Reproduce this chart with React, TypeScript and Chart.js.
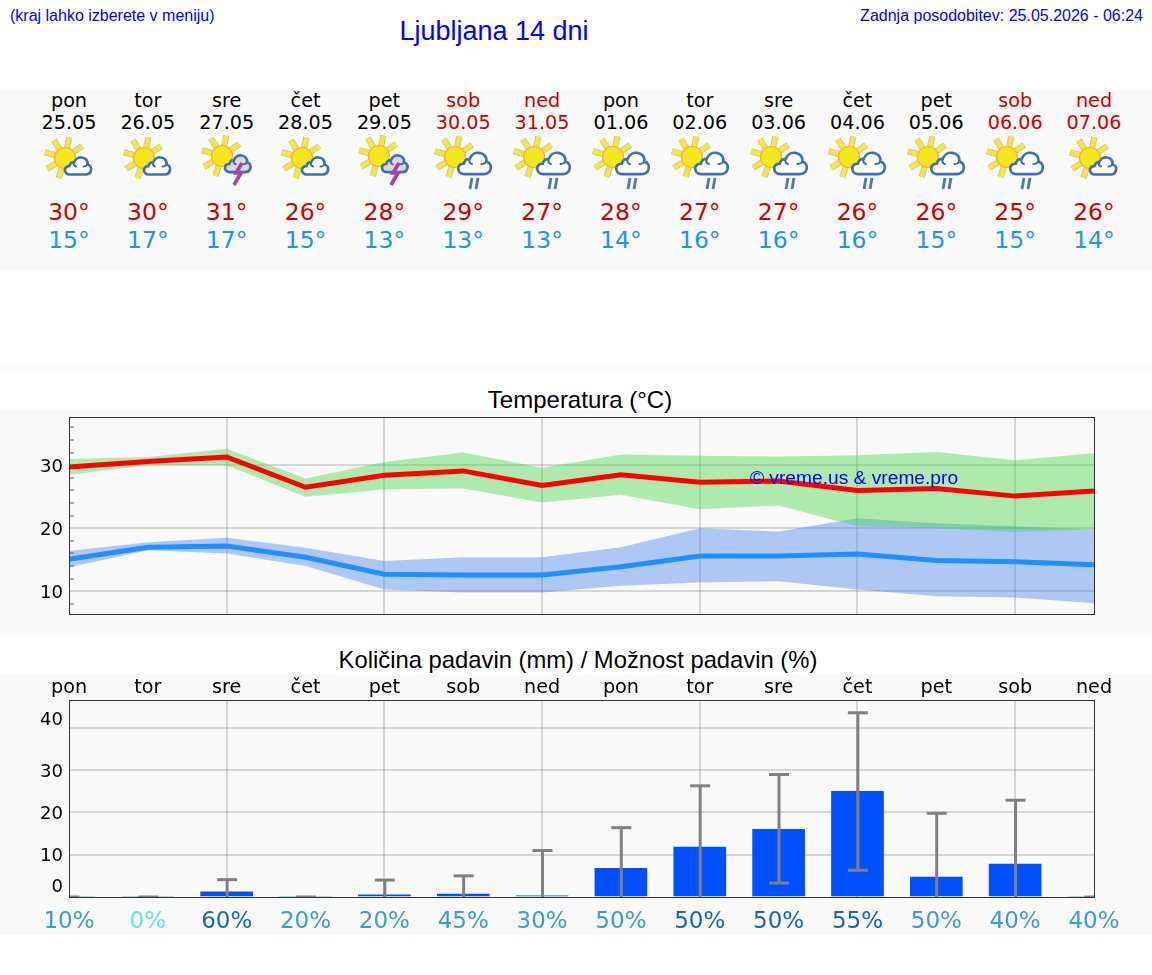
import React, { useEffect, useRef } from "react";
import { Chart, registerables } from "chart.js";
Chart.register(...registerables);

const weekdays = ["pon", "tor", "sre", "čet", "pet", "sob", "ned", "pon", "tor", "sre", "čet", "pet", "sob", "ned"];
const dates = ["25.05", "26.05", "27.05", "28.05", "29.05", "30.05", "31.05", "01.06", "02.06", "03.06", "04.06", "05.06", "06.06", "07.06"];
const weekend = [false, false, false, false, false, true, true, false, false, false, false, false, true, true];
const icons = ["c", "c", "s", "c", "s", "r", "r", "r", "r", "r", "r", "r", "r", "c"];
const highLabels = [30, 30, 31, 26, 28, 29, 27, 28, 27, 27, 26, 26, 25, 26];
const lowLabels = [15, 17, 17, 15, 13, 13, 13, 14, 16, 16, 16, 15, 15, 14];

const tempHigh = [29.7, 30.6, 31.3, 26.5, 28.4, 29.1, 26.8, 28.5, 27.3, 27.5, 26.0, 26.3, 25.1, 25.9];
const tempHighUpper = [31.0, 31.3, 32.6, 27.9, 30.5, 32.0, 29.6, 31.7, 31.5, 31.4, 31.6, 32.1, 30.8, 31.9];
const tempHighLower = [28.5, 30.0, 30.0, 25.0, 26.2, 26.3, 24.1, 25.3, 23.0, 23.6, 20.3, 20.0, 19.4, 19.8];
const tempLow = [15.1, 17.0, 17.2, 15.4, 12.7, 12.6, 12.6, 13.9, 15.6, 15.6, 15.9, 14.9, 14.7, 14.2];
const tempLowUpper = [16.4, 17.8, 18.5, 16.9, 14.8, 15.4, 15.4, 17.0, 20.0, 19.5, 21.6, 20.8, 20.3, 19.8];
const tempLowLower = [13.8, 16.5, 16.0, 14.0, 10.3, 9.8, 9.8, 10.9, 11.4, 11.6, 10.3, 9.2, 9.0, 8.1];

const rain = [0, 0, 1.2, 0, 0.5, 0.7, 0.3, 6.8, 11.8, 16.0, 25.0, 4.7, 7.8, 0];
const rainUpper = [0, 0, 4.1, 0, 4.0, 5.0, 11.0, 16.4, 26.3, 29.0, 43.6, 19.8, 22.9, 0];
const rainLower = [0, 0, 0, 0, 0, 0, 0, 0, 0, 3.3, 6.3, 0, 0, 0];
const rainChance = [10, 0, 60, 20, 20, 45, 30, 50, 50, 50, 55, 50, 40, 40];
const chanceStrong = [false, false, true, false, false, false, false, false, true, true, true, false, false, false];

const DEJAVU = "'DejaVu Sans', sans-serif";
const LIB = "'Liberation Sans', Arial, sans-serif";
const BAND = "#f9f9f9";
const GRID = "rgba(128,128,128,0.3)";
const colX = (i: number) => 69 + (i * 1025) / 13;

// Tick labels are moved by padding them with blank lines of 4px height.
const TICK_FONT = { family: DEJAVU, size: 18, lineHeight: "4px" };
const shiftDown = (s: string) => ["", s];
const shiftUp = (s: string, blanks: number) => [s, ...Array(blanks).fill("")];

const frame = {
  id: "frame",
  afterDatasetsDraw(chart: any) {
    const { ctx, chartArea: a } = chart;
    ctx.save();
    ctx.strokeStyle = "#333333";
    ctx.lineWidth = 1;
    ctx.strokeRect(a.left + 0.5, a.top + 0.5, a.right - a.left, a.bottom - a.top);
    ctx.restore();
  },
};

const whiskers = {
  id: "whiskers",
  afterDatasetsDraw(chart: any) {
    const { ctx, chartArea: a, scales } = chart;
    ctx.save();
    ctx.beginPath();
    ctx.rect(a.left, a.top, a.right - a.left, a.bottom - a.top);
    ctx.clip();
    ctx.strokeStyle = "#808080";
    rainUpper.forEach((u, i) => {
      const x = scales.x.getPixelForValue(i) + 0.4;
      const yU = scales.y.getPixelForValue(u);
      const yL = scales.y.getPixelForValue(rainLower[i]);
      ctx.lineWidth = 3;
      ctx.beginPath();
      ctx.moveTo(x, yU);
      ctx.lineTo(x, yL);
      ctx.stroke();
      ctx.beginPath();
      ctx.moveTo(x - 10, yU);
      ctx.lineTo(x + 10, yU);
      if (rainLower[i] > 0) {
        ctx.moveTo(x - 10, yL);
        ctx.lineTo(x + 10, yL);
      }
      ctx.stroke();
    });
    ctx.restore();
  },
};

const xGrid = (c: any) => {
  const v = c.tick?.value;
  return v % 2 === 0 && v > 0 && v < 13 ? GRID : "transparent";
};
const pts = (a: number[]) => a.map((y, x) => ({ x, y }));
const fitY = (s: any) => {
  s.width = 69;
  s.paddingTop = 0;
  s.paddingBottom = 0;
};

function tempConfig(): any {
  const band = (data: number[], color: string, fill: any, order: number) => ({
    data: pts(data),
    borderWidth: 0,
    pointRadius: 0,
    backgroundColor: color,
    fill,
    order,
    clip: 0,
  });
  const line = (data: number[], color: string, order: number) => ({
    data: pts(data),
    borderColor: color,
    borderWidth: 5,
    pointRadius: 0,
    tension: 0,
    borderJoinStyle: "miter",
    fill: false,
    order,
    clip: 0,
  });
  return {
    type: "line",
    data: {
      datasets: [
        line(tempHigh, "#ff0000", 1),
        line(tempLow, "#1e90ff", 2),
        band(tempHighUpper, "rgba(62,212,62,0.4)", "+1", 3),
        band(tempHighLower, "transparent", false, 3),
        band(tempLowUpper, "rgba(64,128,235,0.4)", "+1", 4),
        band(tempLowLower, "transparent", false, 4),
      ],
    },
    options: {
      animation: false,
      responsive: false,
      devicePixelRatio: 1,
      layout: { padding: { left: 0, top: 7, right: 58, bottom: 21 } },
      plugins: { legend: { display: false }, tooltip: { enabled: false }, title: { display: false } },
      scales: {
        x: {
          type: "linear",
          min: 0,
          max: 13,
          border: { display: false },
          ticks: { stepSize: 1, display: false },
          grid: { color: xGrid, lineWidth: 2, drawTicks: false },
          afterFit: (s: any) => {
            s.height = 0;
          },
        },
        y: {
          min: 6.4,
          max: 37.65,
          border: { display: false },
          afterBuildTicks: (s: any) => {
            s.ticks = s.ticks.filter((t: any) => t.value % 2 === 0);
          },
          ticks: {
            stepSize: 2,
            autoSkip: false,
            includeBounds: false,
            padding: 11,
            color: "#000000",
            font: TICK_FONT,
            callback: (v: number) => (v % 10 === 0 ? shiftDown(String(v)) : ""),
          },
          grid: {
            lineWidth: 2,
            tickLength: -5,
            tickWidth: 1,
            color: (c: any) => (c.tick?.value % 10 === 0 ? GRID : "transparent"),
            tickColor: (c: any) => (c.tick?.value % 10 === 0 ? "transparent" : "#555555"),
          },
          afterFit: fitY,
        },
      },
    },
    plugins: [frame],
  };
}

function rainConfig(): any {
  return {
    type: "bar",
    data: {
      datasets: [
        {
          data: pts(rain),
          backgroundColor: "#0050ff",
          barThickness: 52,
          clip: 0,
        },
      ],
    },
    options: {
      animation: false,
      responsive: false,
      devicePixelRatio: 1,
      layout: { padding: { left: 0, top: 0, right: 58, bottom: 0 } },
      plugins: { legend: { display: false }, tooltip: { enabled: false }, title: { display: false } },
      scales: {
        x: {
          type: "linear",
          min: 0,
          max: 13,
          offset: false,
          border: { display: false },
          ticks: {
            stepSize: 1,
            autoSkip: false,
            maxRotation: 0,
            padding: 11,
            font: { family: DEJAVU, size: 23 },
            color: (c: any) => {
              const i = c.tick?.value ?? 0;
              if (rainChance[i] === 0) return "#66dfe8";
              return chanceStrong[i] ? "#1565b8" : "#3a9bd8";
            },
            callback: (v: number) => `${rainChance[v]}%`,
          },
          grid: { color: xGrid, lineWidth: 2, drawTicks: false, offset: false },
          afterFit: (s: any) => {
            s.height = 38;
          },
        },
        x2: {
          type: "linear",
          position: "top",
          min: 0,
          max: 13,
          offset: false,
          border: { display: false },
          ticks: {
            stepSize: 1,
            autoSkip: false,
            maxRotation: 0,
            padding: 0,
            color: "#000000",
            font: { family: DEJAVU, size: 19.2 },
            callback: (v: number) => weekdays[v],
          },
          grid: { display: false, drawTicks: false, offset: false },
          afterFit: (s: any) => {
            s.height = 25;
          },
        },
        y: {
          min: 0,
          max: 46.6,
          border: { display: false },
          ticks: {
            stepSize: 10,
            includeBounds: false,
            padding: 6,
            color: "#000000",
            font: TICK_FONT,
            callback: (v: number) => {
              const s = String(v);
              if (v === 40) return shiftUp(s, 4);
              if (v === 0) return shiftUp(s, 5);
              return shiftDown(s);
            },
          },
          grid: {
            lineWidth: 2,
            drawTicks: false,
            color: (c: any) => (c.tick?.value === 0 ? "transparent" : GRID),
          },
          afterFit: fitY,
        },
      },
    },
    plugins: [whiskers, frame],
  };
}

const CLOUD =
  "M6 18.5 C2.5 18.5 1 16 1 14 C1 11.5 3 10 5.5 10.2 C5.8 7.5 8 6 10 6.6 C11.5 2.5 15 1 18 1.5 C22 2 24 5 23.5 8.5 C26 9 27.5 11.5 27 14 C26.5 17 24 18.5 21.5 18.5 Z";
const CLOUD_CURL = "M10 6.6 C9.5 8.5 10.5 10 12 10.5 M23.5 8.5 C22.5 10 21 10.6 19.5 10.4";
const RAY_ANGLES = [-164, -122, -78, -35, 108, 149];

function Sun({ x, y }: { x: number; y: number }) {
  return (
    <g>
      {RAY_ANGLES.map((a) => {
        const r = (a * Math.PI) / 180;
        const c = Math.cos(r);
        const s = Math.sin(r);
        const p = { x1: x + c * 10, y1: y + s * 10, x2: x + c * 21, y2: y + s * 21 };
        return (
          <g key={a}>
            <line {...p} stroke="#bdbdbd" strokeWidth={6.2} />
            <line {...p} stroke="#f6e83a" strokeWidth={4.6} />
          </g>
        );
      })}
      <circle cx={x} cy={y} r={10.5} fill="#f6e61e" stroke="#f5b030" strokeWidth={1.2} />
    </g>
  );
}

function Cloud({ x, y, k, fill }: { x: number; y: number; k: number; fill: string }) {
  return (
    <g transform={`translate(${x} ${y}) scale(${k})`}>
      <path d={CLOUD} fill={fill} stroke="#3f6fb5" strokeWidth={2.7 / k} strokeLinejoin="round" />
      <path d={CLOUD_CURL} fill="none" stroke="#3f6fb5" strokeWidth={2 / k} strokeLinecap="round" />
    </g>
  );
}

function WeatherIcon({ kind, cx }: { kind: string; cx: number }) {
  return (
    <svg
      width={90}
      height={64}
      viewBox="-45 0 90 64"
      style={{ position: "absolute", left: cx - 45, top: 132, filter: "blur(0.35px)" }}
    >
      {kind === "c" && (
        <g>
          <Sun x={-4} y={26} />
          <Cloud x={-5} y={24} k={1} fill="#ffffff" />
        </g>
      )}
      {kind === "s" && (
        <g>
          <Sun x={-5} y={24} />
          <Cloud x={-3} y={22} k={0.98} fill="#d9d9d9" />
          <polyline points="15,31 9,41 14,41 7,53" fill="none" stroke="#a63fa8" strokeWidth={3.6} />
        </g>
      )}
      {kind === "r" && (
        <g>
          <Sun x={-8} y={25} />
          <Cloud x={-6} y={19} k={1.25} fill="#ffffff" />
          <line x1={7} y1={57} x2={9} y2={46} stroke="#4a78b8" strokeWidth={2.8} />
          <line x1={13} y1={57} x2={15} y2={46} stroke="#4a78b8" strokeWidth={2.8} />
        </g>
      )}
    </svg>
  );
}

function Label(p: { x: number; y: number; size: number; color: string; font?: string; children: React.ReactNode; align?: string }) {
  const tx = p.align === "left" ? "0" : p.align === "right" ? "-100%" : "-50%";
  return (
    <div
      style={{
        position: "absolute",
        left: p.x,
        top: p.y,
        transform: `translate(${tx}, -50%)`,
        font: `${p.size}px ${p.font ?? DEJAVU}`,
        lineHeight: 1,
        color: p.color,
        whiteSpace: "nowrap",
      }}
    >
      {p.children}
    </div>
  );
}

const bandStyle = (top: number, height: number): React.CSSProperties => ({
  position: "absolute",
  left: 0,
  width: 1152,
  top,
  height,
  background: BAND,
});

export default function App() {
  const tempRef = useRef<HTMLCanvasElement>(null);
  const rainRef = useRef<HTMLCanvasElement>(null);
  useEffect(() => {
    const t = new Chart(tempRef.current as HTMLCanvasElement, tempConfig());
    const r = new Chart(rainRef.current as HTMLCanvasElement, rainConfig());
    return () => {
      t.destroy();
      r.destroy();
    };
  }, []);
  return (
    <div style={{ position: "absolute", left: 0, top: 0, width: 1152, height: 975, background: "#ffffff", overflow: "hidden" }}>
      <div style={bandStyle(90, 180)} />
      <div style={bandStyle(365, 5)} />
      <div style={bandStyle(410, 225)} />
      <div style={bandStyle(675, 260)} />

      <Label x={10} y={16} size={16} color="#0000ff" font={LIB} align="left">(kraj lahko izberete v meniju)</Label>
      <Label x={494} y={31} size={27} color="#0000ff" font={LIB}>Ljubljana 14 dni</Label>
      <Label x={1143} y={16} size={16} color="#0000ff" font={LIB} align="right">Zadnja posodobitev: 25.05.2026 - 06:24</Label>

      {weekdays.map((d, i) => {
        const c = weekend[i] ? "#cc0000" : "#000000";
        return (
          <React.Fragment key={i}>
            <Label x={colX(i)} y={101} size={19.2} color={c}>{d}</Label>
            <Label x={colX(i)} y={123} size={19.2} color={c}>{dates[i]}</Label>
            <WeatherIcon kind={icons[i]} cx={colX(i)} />
            <Label x={colX(i)} y={213} size={23.5} color="#cc0000">{highLabels[i]}°</Label>
            <Label x={colX(i)} y={241} size={23.5} color="#1e90ff">{lowLabels[i]}°</Label>
          </React.Fragment>
        );
      })}

      <Label x={580} y={400} size={24} color="#000000" font={LIB}>Temperatura (°C)</Label>
      <canvas ref={tempRef} width={1152} height={225} style={{ position: "absolute", left: 0, top: 410 }} />
      <Label x={854} y={478} size={19.2} color="#0000ff" font={LIB}>© vreme.us &amp; vreme.pro</Label>

      <Label x={578} y={660} size={23.8} color="#000000" font={LIB}>Količina padavin (mm) / Možnost padavin (%)</Label>
      <canvas ref={rainRef} width={1152} height={260} style={{ position: "absolute", left: 0, top: 675 }} />
    </div>
  );
}
